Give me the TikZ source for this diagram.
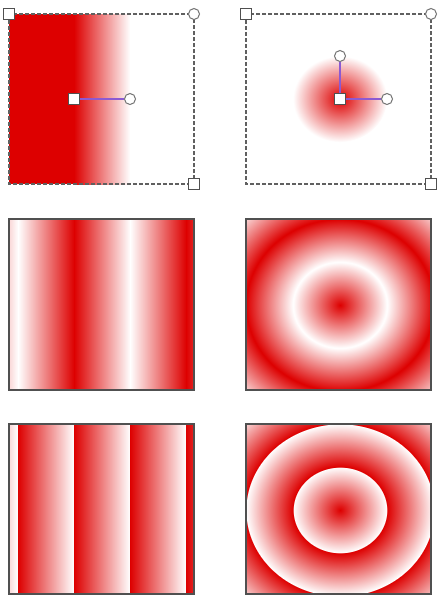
\documentclass[tikz,border=0pt]{standalone}
\definecolor{gred}{RGB}{221,0,0}
\definecolor{hline}{RGB}{140,90,210}
\definecolor{bord}{RGB}{80,80,80}
\pgfdeclareradialshading{radreflect}{\pgfpoint{0bp}{0bp}}{color(0bp)=(gred); color(8.3333bp)=(white); color(16.6667bp)=(gred); color(25bp)=(white); color(50bp)=(white)}
\pgfdeclareradialshading{radrepeat}{\pgfpoint{0bp}{0bp}}{color(0bp)=(gred); color(8.3333bp)=(white); color(8.36bp)=(gred); color(16.6667bp)=(white); color(16.69bp)=(gred); color(25bp)=(white); color(50bp)=(white)}
\tikzset{
  sqh/.style={draw=bord, fill=white, rectangle, minimum size=10.5pt, inner sep=0pt, line width=1pt},
  cih/.style={draw=gray!90!black, fill=white, circle, minimum size=11pt, inner sep=0pt, line width=1pt},
  hl/.style={draw=hline, line width=1.3pt},
  dashbox/.style={draw=gray!75!black, line width=1.3pt, dash pattern=on 4pt off 2pt},
  solidbox/.style={draw=bord, line width=1.3pt}
}
\begin{document}
\begin{tikzpicture}[x=1pt,y=-1pt]
\useasboundingbox[fill=white] (0,0) rectangle (438,595);
% ---------- panel 1: linear pad
\fill[gred] (9,14) rectangle (74.5,184);
\shade[left color=gred,right color=white] (74,14) rectangle (130,184);
\fill[white] (130,14) rectangle (194,184);
\draw[dashbox] (9,14) rectangle (194,184);
\node[sqh] (a1) at (9,14) {};
\node[cih] (a2) at (194,14) {};
\node[sqh] (a3) at (194,184) {};
\node[sqh] (ac) at (74,99) {};
\node[cih] (ar) at (130,99) {};
\draw[hl] (ac) -- (ar);
% ---------- panel 2: radial pad
\begin{scope}
\clip (246,14) rectangle (431,184);
\shade[inner color=gred,outer color=white] (340,99) ellipse [x radius=47pt, y radius=43pt];
\end{scope}
\draw[dashbox] (246,14) rectangle (431,184);
\node[sqh] (b1) at (246,14) {};
\node[cih] (b2) at (431,14) {};
\node[sqh] (b3) at (431,184) {};
\node[sqh] (bc) at (340,99) {};
\node[cih] (br) at (387,99) {};
\node[cih] (bt) at (340,56) {};
\draw[hl] (bc) -- (br);
\draw[hl] (bc) -- (bt);
% ---------- panel 3: linear reflect
\fill[gred!55!white] (9,219) rectangle (194,390);
\shade[left color=gred!16!white,right color=white] (9,219) rectangle (18.3,390);
\shade[left color=white,right color=gred] (18,219) rectangle (74.3,390);
\shade[left color=gred,right color=white] (74,219) rectangle (130.3,390);
\shade[left color=white,right color=gred] (130,219) rectangle (186.3,390);
\shade[left color=gred,right color=gred!86!white] (186,219) rectangle (194,390);
\draw[solidbox] (9,219) rectangle (194,390);
% ---------- panel 4: radial reflect
\begin{scope}
\clip (246,219) rectangle (431,390);
\shade[shading=radreflect] (340,305) ellipse [x radius=141pt, y radius=129pt];
\end{scope}
\draw[solidbox] (246,219) rectangle (431,390);
% ---------- panel 5: linear repeat
\shade[left color=gred!16!white,right color=white] (9,424) rectangle (18,594);
\shade[left color=gred,right color=white] (18,424) rectangle (74,594);
\shade[left color=gred,right color=white] (74,424) rectangle (130,594);
\shade[left color=gred,right color=white] (130,424) rectangle (186,594);
\shade[left color=gred,right color=gred!86!white] (186,424) rectangle (194,594);
\draw[solidbox] (9,424) rectangle (194,594);
% ---------- panel 6: radial repeat
\begin{scope}
\clip (246,424) rectangle (431,594);
\shade[shading=radrepeat] (340,510) ellipse [x radius=141pt, y radius=129pt];
\end{scope}
\draw[solidbox] (246,424) rectangle (431,594);
\end{tikzpicture}
\end{document}
